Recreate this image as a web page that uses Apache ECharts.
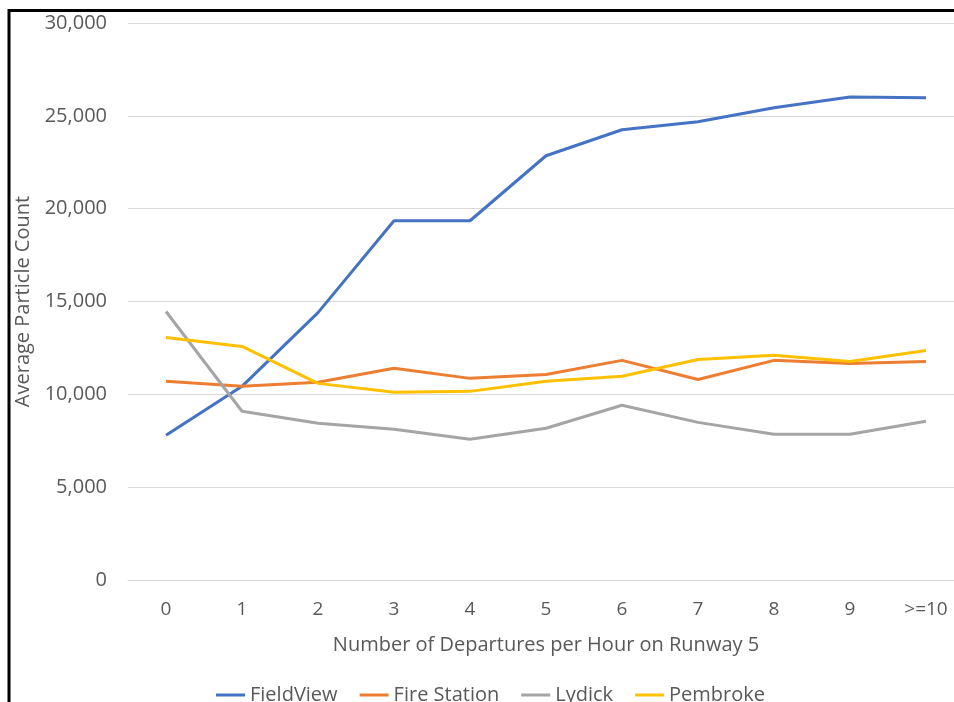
<!DOCTYPE html>
<html>
<head>
<meta charset="utf-8">
<script src="https://cdn.jsdelivr.net/npm/echarts@6/dist/echarts.min.js"></script>
<style>
  html, body { margin: 0; padding: 0; background: #fff; overflow: hidden; }
  /* chart is a bit wider than the window: the reference is cropped on the right */
  #chart { width: 980px; height: 702px; }
</style>
</head>
<body>
<div id="chart"></div>
<script>
const categories = ["0", "1", "2", "3", "4", "5", "6", "7", "8", "9", ">=10"];
const fieldView = [7800, 10430, 14400, 19350, 19350, 22850, 24250, 24680, 25430, 26020, 25970];
const fireStation = [10700, 10430, 10650, 11400, 10860, 11070, 11830, 10800, 11830, 11660, 11770];
const lydick = [14460, 9090, 8440, 8120, 7580, 8170, 9410, 8490, 7850, 7850, 8550];
const pembroke = [13060, 12580, 10590, 10110, 10160, 10700, 10970, 11880, 12100, 11770, 12360];

const TEXT = "#595959";
const FONT = "Open Sans";

const chart = echarts.init(document.getElementById("chart"), null, { renderer: "canvas" });

function lineSeries(name, data, color) {
  return {
    name,
    type: "line",
    data,
    symbol: "none",
    lineStyle: { color, width: 3 },
    itemStyle: { color },
  };
}

chart.setOption({
  animation: false,
  textStyle: { fontFamily: FONT },
  grid: { left: 128, right: 16, top: 23, height: 557, containLabel: false },
  graphic: [
    {
      type: "rect",
      shape: { x: 9, y: 10.5, width: 1200, height: 1200 },
      style: { fill: "none", stroke: "#000", lineWidth: 3 },
      silent: true,
    },
  ],
  legend: {
    left: 211,
    top: 680,
    icon: "rect",
    itemWidth: 29,
    itemHeight: 3,
    itemGap: 22,
    textStyle: { color: TEXT, fontSize: 20, fontFamily: FONT },
    data: ["FieldView", "Fire Station", "Lydick", "Pembroke"],
  },
  xAxis: {
    type: "category",
    data: categories,
    boundaryGap: true,
    name: "Number of Departures per Hour on Runway 5",
    nameLocation: "middle",
    nameGap: 55,
    nameTextStyle: { color: TEXT, fontSize: 20, fontFamily: FONT },
    axisLine: { lineStyle: { color: "#d9d9d9", width: 1 } },
    axisTick: { show: false },
    axisLabel: { color: TEXT, fontSize: 19, margin: 20, fontFamily: FONT },
  },
  yAxis: {
    type: "value",
    min: 0,
    max: 30000,
    interval: 5000,
    name: "Average Particle Count",
    nameLocation: "middle",
    nameGap: 92,
    nameTextStyle: { color: TEXT, fontSize: 20, fontFamily: FONT },
    axisLine: { show: false },
    axisTick: { show: false },
    splitLine: { lineStyle: { color: "#d9d9d9", width: 1 } },
    axisLabel: {
      color: TEXT,
      fontSize: 20,
      margin: 21,
      fontFamily: FONT,
      formatter: (v) => v.toLocaleString("en-US"),
    },
  },
  series: [
    lineSeries("FieldView", fieldView, "#4472C4"),
    lineSeries("Fire Station", fireStation, "#ED7D31"),
    lineSeries("Lydick", lydick, "#A5A5A5"),
    lineSeries("Pembroke", pembroke, "#FFC000"),
  ],
});
</script>
</body>
</html>
